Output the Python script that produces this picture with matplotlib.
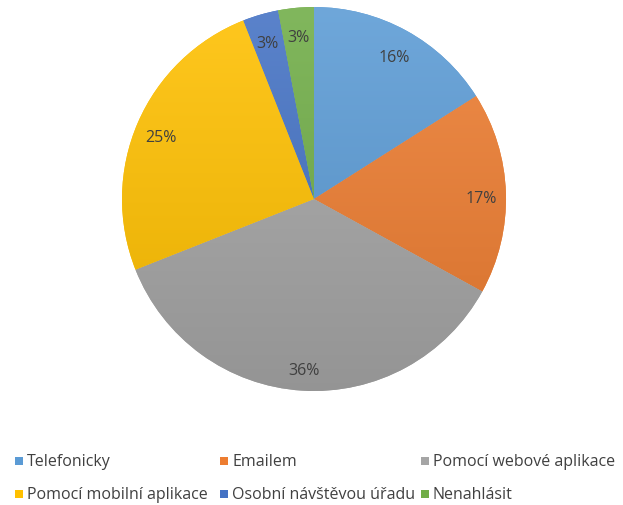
import numpy as np
import matplotlib
matplotlib.use("Agg")
import matplotlib.pyplot as plt
from matplotlib.colors import to_rgb

categories = ["Telefonicky", "Emailem", "Pomocí webové aplikace",
              "Pomocí mobilní aplikace", "Osobní návštěvou úřadu", "Nenahlásit"]
shares = [16, 17, 36, 25, 3, 3]
colors = ["#5B9BD5", "#ED7D31", "#A5A5A5", "#FFC000", "#4472C4", "#70AD47"]

W, H = 623, 506
fig = plt.figure(figsize=(W / 100, H / 100), dpi=100)
ax = fig.add_axes([0, 0, 1, 1])
ax.set_aspect("equal")

cx, cy, r = 314, 306, 192
text_color = "#404040"
font = "Open Sans"
fs = 11.5

wedges, texts, autotexts = ax.pie(
    shares, colors=colors, startangle=90, counterclock=False,
    center=(cx, cy), radius=r, autopct="%d%%", pctdistance=0.87,
    wedgeprops=dict(linewidth=0), frame=True,
    textprops=dict(color=text_color, fontsize=fs, family=font))
ax.set_xlim(0, W)
ax.set_ylim(0, H)
ax.axis("off")

# vertical shading on each slice: lighter at the top, darker at the bottom
t = np.linspace(0, 1, 256)[:, None]
for w, c in zip(wedges, colors):
    base = np.array(to_rgb(c))
    top = base + (1 - base) * 0.12
    bottom = base * 0.90
    grad = bottom[None, None, :] * (1 - t[..., None]) + top[None, None, :] * t[..., None]
    grad = np.repeat(grad, 2, axis=1)
    im = ax.imshow(grad, extent=[cx - r, cx + r, cy - r, cy + r],
                   origin="lower", aspect="auto", zorder=w.get_zorder() + 0.1,
                   interpolation="bilinear")
    im.set_clip_path(w)
for at in autotexts:
    x, y = at.get_position()
    at.set_position((x, y - 4))
    at.set_zorder(5)

# legend laid out in three columns
col_x = [15, 220, 421]
row_y = [44, 11]
for i, (name, c) in enumerate(zip(categories, colors)):
    x = col_x[i % 3]
    y = row_y[i // 3]
    ax.add_patch(plt.Rectangle((x, y - 4), 7.5, 8, facecolor=c, edgecolor="none"))
    ax.text(x + 12, y, name, ha="left", va="center", color=text_color,
            fontsize=fs, family=font)

fig.savefig("out.png", dpi=100)
